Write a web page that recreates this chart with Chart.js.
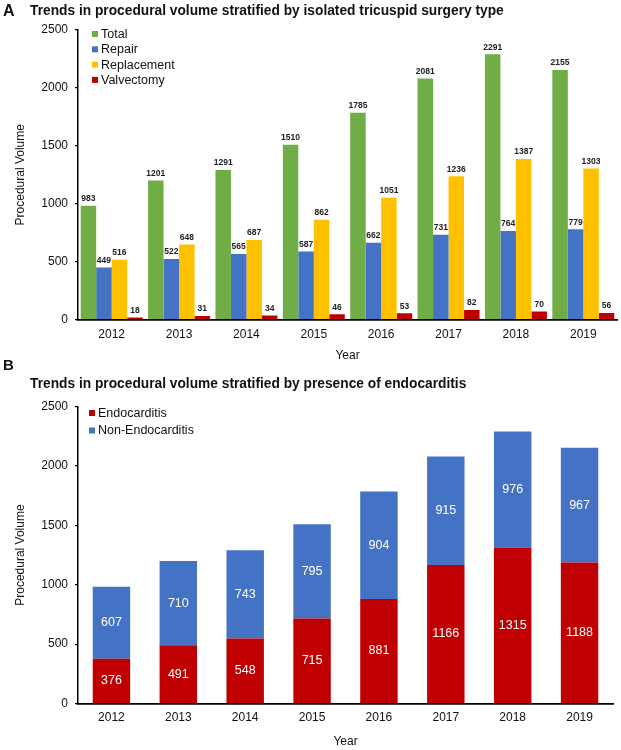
<!DOCTYPE html>
<html>
<head>
<meta charset="utf-8">
<script src="https://cdn.jsdelivr.net/npm/chart.js@4.4.1/dist/chart.umd.min.js"></script>
<style>
  html, body { margin: 0; padding: 0; background: #fff; }
  body { width: 621px; height: 750px; position: relative; overflow: hidden; font-family: 'Liberation Sans', Arial, sans-serif; color: #111; }
  .wrap { position: absolute; left: 0; width: 621px; }
  .lbl { position: absolute; font-weight: bold; white-space: nowrap; line-height: 1; z-index: 2; }
</style>
</head>
<body>
<div class="lbl" style="left:3px; top:3px; font-size:16px;">A</div>
<div class="lbl" style="left:30px; top:3.5px; font-size:13.75px;">Trends in procedural volume stratified by isolated tricuspid surgery type</div>
<div class="lbl" style="left:3px; top:357px; font-size:15px;">B</div>
<div class="lbl" style="left:30px; top:376.5px; font-size:13.75px;">Trends in procedural volume stratified by presence of endocarditis</div>
<div class="wrap" style="top:0; height:365px;"><canvas id="chartA"></canvas></div>
<div class="wrap" style="top:365px; height:385px;"><canvas id="chartB"></canvas></div>
<script>
// ---- Data ----
const years = ['2012', '2013', '2014', '2015', '2016', '2017', '2018', '2019'];
const total = [983, 1201, 1291, 1510, 1785, 2081, 2291, 2155];
const repair = [449, 522, 565, 587, 662, 731, 764, 779];
const replacement = [516, 648, 687, 862, 1051, 1236, 1387, 1303];
const valvectomy = [18, 31, 34, 46, 53, 82, 70, 56];
const endocarditis = [376, 491, 548, 715, 881, 1166, 1315, 1188];
const nonEndocarditis = [607, 710, 743, 795, 904, 915, 976, 967];
const yTickValues = [0, 500, 1000, 1500, 2000, 2500];

const FONT = "'Liberation Sans', Arial, sans-serif";
const TEXT = '#111';

// Legend drawn inside the plot area
const innerLegend = {
  id: 'innerLegend',
  afterDraw(chart, args, opts) {
    const ctx = chart.ctx;
    const a = chart.chartArea;
    ctx.save();
    ctx.font = opts.fontSize + 'px ' + FONT;
    ctx.textBaseline = 'middle';
    ctx.textAlign = 'left';
    chart.data.datasets.forEach((ds, i) => {
      const y = a.top + opts.dy + i * opts.row;
      const x = a.left + opts.dx;
      ctx.fillStyle = ds.backgroundColor;
      ctx.fillRect(x, y - opts.box / 2, opts.box, opts.box);
      ctx.fillStyle = TEXT;
      ctx.fillText(ds.label, x + opts.box + opts.gap, y + 0.5);
    });
    ctx.restore();
  }
};

// Value labels
const valueLabels = {
  id: 'valueLabels',
  afterDatasetsDraw(chart, args, opts) {
    const ctx = chart.ctx;
    ctx.save();
    ctx.font = opts.font;
    ctx.textAlign = 'center';
    ctx.textBaseline = 'middle';
    ctx.fillStyle = opts.color;
    chart.data.datasets.forEach((ds, di) => {
      const meta = chart.getDatasetMeta(di);
      meta.data.forEach((bar, i) => {
        const v = ds.data[i];
        let y;
        if (opts.mode === 'center') y = (bar.y + bar.base) / 2;
        else y = bar.y - opts.offset;
        ctx.fillText(String(v), bar.x, y);
      });
    });
    ctx.restore();
  }
};

function yScale(width) {
  return {
    min: 0, max: 2500,
    afterBuildTicks(s) { s.ticks = yTickValues.map(v => ({ value: v })); },
    afterFit(s) { s.width = width; },
    grid: { drawOnChartArea: false, drawTicks: true, tickLength: 3, color: '#000', lineWidth: 1.2 },
    border: { display: true, color: '#000', width: 1.5 },
    ticks: { padding: 7, color: TEXT, font: { family: FONT, size: 12 }, callback: v => String(v) },
    title: { display: true, text: 'Procedural Volume', color: TEXT, font: { family: FONT, size: 12 }, padding: { top: 13, bottom: 0 } }
  };
}
function xScale(height, tickPad, titleBottom) {
  return {
    afterFit(s) { s.height = height; },
    grid: { display: false, drawTicks: false },
    border: { display: true, color: '#000', width: 1.8 },
    ticks: { padding: tickPad, color: TEXT, font: { family: FONT, size: 12 } },
    title: { display: true, text: 'Year', color: TEXT, font: { family: FONT, size: 12 }, padding: { top: 0, bottom: titleBottom } }
  };
}

new Chart(document.getElementById('chartA'), {
  type: 'bar',
  data: {
    labels: years,
    datasets: [
      { label: 'Total', data: total, backgroundColor: '#70AD47' },
      { label: 'Repair', data: repair, backgroundColor: '#4472C4' },
      { label: 'Replacement', data: replacement, backgroundColor: '#FFC000' },
      { label: 'Valvectomy', data: valvectomy, backgroundColor: '#C00000' }
    ]
  },
  options: {
    responsive: true, maintainAspectRatio: false, animation: false,
    layout: { padding: { top: 30, right: 4, bottom: 0, left: 0 } },
    datasets: { bar: { categoryPercentage: 0.92, barPercentage: 1.0 } },
    scales: { x: xScale(45.5, 8, 1.8), y: yScale(78) },
    plugins: {
      legend: { display: false }, tooltip: { enabled: false },
      innerLegend: { dx: 14, dy: 4, row: 15.3, box: 6, gap: 3, fontSize: 12.5 },
      valueLabels: { mode: 'top', offset: 7, font: 'bold 8.5px ' + FONT, color: '#222' }
    }
  },
  plugins: [innerLegend, valueLabels]
});

new Chart(document.getElementById('chartB'), {
  type: 'bar',
  data: {
    labels: years,
    datasets: [
      { label: 'Endocarditis', data: endocarditis, backgroundColor: '#C00000' },
      { label: 'Non-Endocarditis', data: nonEndocarditis, backgroundColor: '#4472C4' }
    ]
  },
  options: {
    responsive: true, maintainAspectRatio: false, animation: false,
    layout: { padding: { top: 41.7, right: 8, bottom: 0, left: 0 } },
    datasets: { bar: { categoryPercentage: 0.56, barPercentage: 1.0 } },
    scales: {
      x: Object.assign(xScale(46.5, 6.6, 1.1), { stacked: true }),
      y: Object.assign(yScale(78), { stacked: true })
    },
    plugins: {
      legend: { display: false }, tooltip: { enabled: false },
      innerLegend: { dx: 11, dy: 6.3, row: 17.5, box: 6, gap: 3, fontSize: 12.5 },
      valueLabels: { mode: 'center', font: '12.5px ' + FONT, color: '#fff' }
    }
  },
  plugins: [innerLegend, valueLabels]
});
</script>
</body>
</html>
